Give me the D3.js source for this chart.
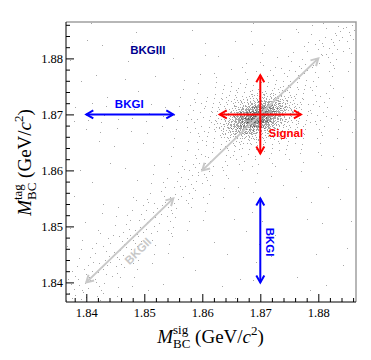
<!DOCTYPE html>
<html>
<head>
<meta charset="utf-8">
<script src="https://cdn.jsdelivr.net/npm/d3@7"></script>
<style>
body { margin: 0; background: #fff; }
</style>
</head>
<body>
<div id="chart"></div>
<script>
// Mbc(tag) vs Mbc(sig) scatter, drawn from binned counts

// axis range and ticks (GeV/c^2)
var axisRange = [1.8365, 1.8865];
var majorTicks = [1.84, 1.85, 1.86, 1.87, 1.88];

// coarse bins: 0.002 wide, x from 1.8365, rows from top (y = 1.8865) downwards
var coarseStep = 0.002;
var coarseCounts = [
  [0,0,1,0,0,0,1,0,0,0,1,0,0,0,0,1,1,0,0,1,1,1,2,4,5],
  [0,1,0,0,0,1,0,0,0,0,0,1,0,0,1,0,1,0,1,0,1,2,3,4,3],
  [0,0,0,1,0,0,0,1,0,0,0,0,1,0,0,0,1,1,0,1,2,3,4,3,2],
  [1,0,0,0,0,1,0,0,0,1,0,0,0,1,0,1,1,1,1,2,3,4,3,2,1],
  [0,0,1,0,0,0,0,1,0,0,0,1,1,1,1,2,2,3,3,3,4,3,2,1,1],
  [0,1,0,0,0,1,0,0,0,0,1,1,0,0,0,0,0,0,0,0,0,3,1,1,0],
  [0,0,0,1,0,0,1,0,0,1,1,2,0,0,0,0,0,0,0,0,0,3,2,1,0],
  [1,0,1,1,0,1,0,1,1,1,2,3,0,0,0,0,0,0,0,0,0,4,2,1,1],
  [1,1,1,2,1,1,1,1,1,2,3,4,0,0,0,0,0,0,0,0,0,4,3,2,1],
  [0,1,1,0,1,1,0,1,1,1,2,4,0,0,0,0,0,0,0,0,0,3,2,1,1],
  [0,0,1,0,0,0,1,0,0,1,1,3,0,0,0,0,0,0,0,0,0,2,1,1,0],
  [1,0,0,0,1,0,0,0,0,1,1,3,0,0,0,0,0,0,0,0,0,1,1,0,0],
  [0,0,0,1,0,0,0,1,1,1,2,3,5,3,3,2,3,2,1,1,1,0,0,1,0],
  [0,1,0,0,0,1,0,1,1,2,3,5,3,2,1,1,1,1,0,0,1,0,0,0,1],
  [0,0,1,0,0,0,1,1,2,3,4,3,2,1,1,0,1,0,1,0,0,0,1,0,0],
  [1,0,0,0,0,1,1,2,3,4,3,2,1,1,0,0,1,0,0,1,0,0,0,1,0],
  [0,0,0,1,1,1,2,3,4,3,2,1,1,0,0,0,1,0,0,0,0,1,0,0,0],
  [0,1,0,1,1,2,3,4,3,2,1,1,0,0,1,0,1,0,0,0,1,0,0,0,1],
  [1,0,1,1,2,3,4,3,2,2,1,0,0,0,0,1,1,0,0,0,0,0,1,0,0],
  [0,1,1,2,3,4,3,2,1,1,0,0,1,0,0,0,1,0,1,0,0,0,0,0,0],
  [1,1,2,3,4,3,2,1,1,0,0,0,0,1,0,0,0,1,0,0,0,1,0,0,1],
  [1,2,3,4,3,2,1,1,0,0,1,0,0,0,0,0,1,0,0,0,0,0,0,1,0],
  [2,3,4,3,2,1,1,0,0,0,0,1,0,0,0,1,0,0,0,1,0,0,0,0,0],
  [3,4,3,2,1,1,0,0,1,0,0,0,0,1,0,0,1,0,0,0,0,0,1,0,0],
  [4,3,2,1,1,0,0,1,0,0,0,0,0,0,1,0,0,0,0,0,0,1,0,0,0]
];

// fine bins round the signal peak: 0.001 wide, x from 1.8605, rows from y = 1.8765 down
var fineStep = 0.001;
var fineOrigin = [1.8605, 1.8765];
var fineCounts = [
  [0,1,0,0,1,0,1,1,0,1,1,0,1,1,1,1,1,1],
  [0,1,0,1,1,1,1,1,1,1,1,1,2,1,2,1,1,1],
  [0,1,1,1,1,2,1,2,2,3,3,3,3,3,2,1,1,1],
  [1,1,1,2,2,2,3,4,5,6,7,8,7,5,4,2,1,1],
  [1,1,2,2,3,4,6,9,13,17,19,17,14,9,6,3,2,1],
  [1,2,2,3,5,8,14,22,30,36,36,29,21,13,7,4,2,1],
  [1,2,3,4,8,15,26,39,49,52,46,34,22,12,6,3,2,1],
  [1,2,3,6,12,22,34,46,52,49,39,26,15,8,4,3,2,1],
  [1,2,4,7,13,21,29,36,36,30,22,14,8,5,3,2,2,1],
  [1,2,3,6,9,14,17,19,17,13,9,6,4,3,2,2,1,1],
  [1,1,2,4,5,7,8,7,6,5,4,3,2,2,2,1,1,1],
  [1,1,1,2,3,3,3,3,3,2,2,1,2,1,1,1,1,0],
  [1,1,1,2,1,2,1,1,1,1,1,1,1,1,1,0,1,0],
  [1,1,1,1,1,1,0,1,1,0,1,1,0,1,0,0,1,0]
];

// region annotations (data coordinates)
var arrows = [
  { x1: 1.840, y1: 1.870, x2: 1.855, y2: 1.870, color: "#0000ff" },
  { x1: 1.870, y1: 1.840, x2: 1.870, y2: 1.855, color: "#0000ff" },
  { x1: 1.840, y1: 1.840, x2: 1.855, y2: 1.855, color: "#c8c8c8" },
  { x1: 1.860, y1: 1.860, x2: 1.880, y2: 1.880, color: "#c8c8c8" },
  { x1: 1.863, y1: 1.870, x2: 1.877, y2: 1.870, color: "#ff0000" },
  { x1: 1.870, y1: 1.863, x2: 1.870, y2: 1.877, color: "#ff0000" }
];
var labels = [
  { text: "BKGIII", x: 1.8506, y: 1.8815, angle: 0, color: "#00008f" },
  { text: "BKGI", x: 1.8474, y: 1.8719, angle: 0, color: "#0000ff" },
  { text: "BKGI", x: 1.8717, y: 1.8472, angle: 90, color: "#0000ff" },
  { text: "BKGII", x: 1.8489, y: 1.8456, angle: -45, color: "#c8c8c8" },
  { text: "Signal", x: 1.8744, y: 1.8667, angle: 0, color: "#ff0000" }
];

// SVG Dimensions
var svgWidth = 371;
var svgHeight = 360;
var margin = { top: 22, right: 15, bottom: 58, left: 66 };
var plotWidth = svgWidth - margin.left - margin.right;
var plotHeight = svgHeight - margin.top - margin.bottom;

var serif = "'Liberation Serif', 'Times New Roman', serif";
var sans = "'Liberation Sans', Arial, Helvetica, sans-serif";

var svg = d3.select("#chart")
  .append("svg")
  .attr("width", svgWidth)
  .attr("height", svgHeight);

var chartGroup = svg.append("g")
  .attr("transform", `translate(${margin.left}, ${margin.top})`);

var xScale = d3.scaleLinear().domain(axisRange).range([0, plotWidth]);
var yScale = d3.scaleLinear().domain(axisRange).range([plotHeight, 0]);

// spread each bin's count inside the bin with a fixed low-discrepancy pattern
function binPoints(counts, x0, yTop, step) {
  var pts = [];
  counts.forEach(function(row, j) {
    row.forEach(function(n, i) {
      var s = ((j * 37 + i * 23) * 0.6180339887) % 1;
      for (var k = 0; k < n; k++) {
        var fx = (s + (k + 1) * 0.7548776662) % 1;
        var fy = (s * 1.37 + (k + 1) * 0.5698402910) % 1;
        pts.push([x0 + (i + fx) * step, yTop - (j + fy) * step]);
      }
    });
  });
  return pts;
}

var points = binPoints(coarseCounts, axisRange[0], axisRange[1], coarseStep)
  .concat(binPoints(fineCounts, fineOrigin[0], fineOrigin[1], fineStep));

chartGroup.append("g")
  .selectAll("rect")
  .data(points)
  .enter()
  .append("rect")
  .attr("x", d => Math.floor(xScale(d[0])))
  .attr("y", d => Math.floor(yScale(d[1])))
  .attr("width", 1)
  .attr("height", 1)
  .attr("fill", "#222")
  .attr("opacity", 0.4);

// axes: major + minor ticks pointing inwards
var minorTicks = d3.range(1.838, 1.8866, 0.002)
  .filter(v => !majorTicks.some(m => Math.abs(m - v) < 1e-6));

function styleAxis(g) {
  g.select(".domain").remove();
  g.selectAll("line").attr("stroke", "#000");
  g.selectAll("text")
    .attr("font-family", serif)
    .attr("font-size", 12.5)
    .attr("fill", "#000");
}

chartGroup.append("g")
  .attr("transform", `translate(0, ${plotHeight})`)
  .call(d3.axisBottom(xScale).tickValues(majorTicks).tickSize(-8).tickPadding(6).tickFormat(d3.format(".2f")))
  .call(styleAxis);
chartGroup.append("g")
  .attr("transform", `translate(0, ${plotHeight})`)
  .call(d3.axisBottom(xScale).tickValues(minorTicks).tickSize(-4).tickFormat(""))
  .call(styleAxis);
chartGroup.append("g")
  .call(d3.axisLeft(yScale).tickValues(majorTicks).tickSize(-8).tickPadding(3).tickFormat(d3.format(".2f")))
  .call(styleAxis);
chartGroup.append("g")
  .call(d3.axisLeft(yScale).tickValues(minorTicks).tickSize(-4).tickFormat(""))
  .call(styleAxis);

// frame
chartGroup.append("path")
  .attr("d", `M0,0H${plotWidth}V${plotHeight}`)
  .attr("fill", "none")
  .attr("stroke", "#a0a0a0")
  .attr("stroke-width", 1.5);
chartGroup.append("path")
  .attr("d", `M0,0V${plotHeight}H${plotWidth}`)
  .attr("fill", "none")
  .attr("stroke", "#000")
  .attr("stroke-width", 1);

// double-headed arrows
var headLen = 7, headHalf = 4;
arrows.forEach(function(a) {
  var x1 = xScale(a.x1), y1 = yScale(a.y1), x2 = xScale(a.x2), y2 = yScale(a.y2);
  var ang = Math.atan2(y2 - y1, x2 - x1);
  var ux = Math.cos(ang), uy = Math.sin(ang);
  var g = chartGroup.append("g")
    .attr("stroke", a.color)
    .attr("stroke-width", 2)
    .attr("fill", "none")
    .attr("stroke-linejoin", "miter");
  g.append("line").attr("x1", x1).attr("y1", y1).attr("x2", x2).attr("y2", y2);
  [[x2, y2, 1], [x1, y1, -1]].forEach(function(e) {
    var bx = e[0] - e[2] * ux * headLen, by = e[1] - e[2] * uy * headLen;
    g.append("path")
      .attr("d", `M${bx - uy * headHalf},${by + ux * headHalf}L${e[0]},${e[1]}L${bx + uy * headHalf},${by - ux * headHalf}`);
  });
});

labels.forEach(function(l) {
  chartGroup.append("text")
    .attr("transform", `translate(${xScale(l.x)}, ${yScale(l.y)}) rotate(${l.angle})`)
    .attr("text-anchor", "middle")
    .attr("dy", "0.35em")
    .attr("font-family", sans)
    .attr("font-weight", "bold")
    .attr("font-size", 11.5)
    .attr("fill", l.color)
    .text(l.text);
});

// axis titles: M with stacked super/subscript, then (GeV/c^2)
function axisTitle(parent, sup) {
  var t = parent.append("text")
    .attr("font-family", serif)
    .attr("font-size", 19)
    .attr("fill", "#000");
  t.append("tspan").attr("font-style", "italic").text("M");
  var supT = t.append("tspan").attr("font-size", 13).attr("dy", -9).text(sup);
  var supW = supT.node().getComputedTextLength();
  var subT = t.append("tspan").attr("font-size", 13).attr("dx", -supW).attr("dy", 14).text("BC");
  var subW = subT.node().getComputedTextLength();
  t.append("tspan").attr("dx", Math.max(0, supW - subW)).attr("dy", -5).text(" (GeV/");
  t.append("tspan").attr("font-style", "italic").text("c");
  t.append("tspan").attr("font-size", 13).attr("dy", -8).text("2");
  t.append("tspan").attr("dy", 8).text(")");
  return t.node().getBBox().width;
}

var xTitle = svg.append("g");
var xw = axisTitle(xTitle, "sig");
xTitle.attr("transform", `translate(${margin.left + plotWidth / 2 - xw / 2}, 343)`);

var yTitle = svg.append("g");
var yw = axisTitle(yTitle, "tag");
yTitle.attr("transform", `translate(31, ${margin.top + plotHeight / 2 + yw / 2}) rotate(-90)`);
</script>
</body>
</html>
